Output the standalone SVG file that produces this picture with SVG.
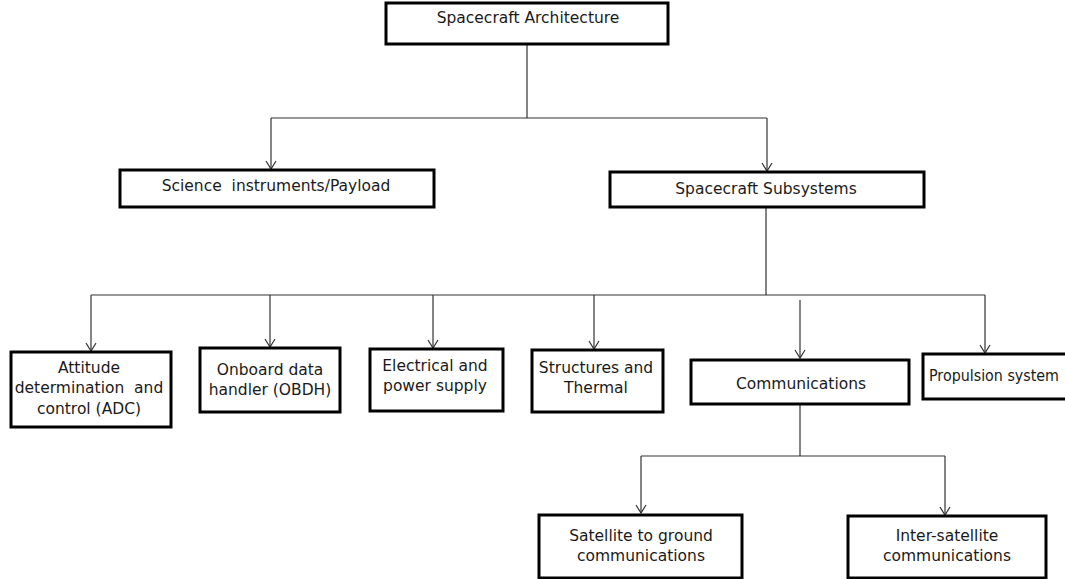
<svg xmlns="http://www.w3.org/2000/svg" width="1065" height="579" viewBox="0 0 1065 579">
<defs>
<marker id="arr" markerWidth="12" markerHeight="12" refX="10" refY="6" orient="auto" markerUnits="userSpaceOnUse" viewBox="0 0 12 12">
<path d="M2,1 L10,6 L2,11" fill="none" stroke="#333" stroke-width="1.2"/>
</marker>
<style>
.box{fill:#fff;stroke:#000;stroke-width:3}
.t{font-family:"DejaVu Sans",Verdana,sans-serif;font-size:15.5px;fill:#1a1a1a;text-anchor:middle}
.c{fill:none;stroke:#333;stroke-width:1.2}
</style>
</defs>
<rect width="1065" height="579" fill="#fff"/>
<g id="connectors">
<path class="c" d="M527,44 V118 M271,118 H767"/>
<path class="c" d="M271,118 V169" marker-end="url(#arr)"/>
<path class="c" d="M767,118 V171" marker-end="url(#arr)"/>
<path class="c" d="M766,207 V295 M91,295 H985"/>
<path class="c" d="M91,295 V351" marker-end="url(#arr)"/>
<path class="c" d="M270,295 V347" marker-end="url(#arr)"/>
<path class="c" d="M433,295 V348" marker-end="url(#arr)"/>
<path class="c" d="M594,295 V349" marker-end="url(#arr)"/>
<path class="c" d="M800,300 V358" marker-end="url(#arr)"/>
<path class="c" d="M985,295 V353" marker-end="url(#arr)"/>
<path class="c" d="M800,404 V456 M641,456 H945"/>
<path class="c" d="M641,456 V513" marker-end="url(#arr)"/>
<path class="c" d="M945,456 V515" marker-end="url(#arr)"/>
</g>
<g id="arch"><rect class="box" x="386" y="3" width="282" height="41"/><text class="t" x="528" y="23">Spacecraft Architecture</text></g>
<g id="payload"><rect class="box" x="120" y="170" width="314" height="37"/><text class="t" x="276" y="191">Science&#160; instruments/Payload</text></g>
<g id="subsys"><rect class="box" x="610" y="172" width="314" height="35"/><text class="t" x="766" y="194">Spacecraft Subsystems</text></g>
<g id="adc"><rect class="box" x="11" y="352" width="160" height="75"/><text class="t" x="89" y="373">Attitude</text><text class="t" x="89" y="393">determination&#160; and</text><text class="t" x="89" y="414">control (ADC)</text></g>
<g id="obdh"><rect class="box" x="200" y="348" width="140" height="64"/><text class="t" x="270" y="375">Onboard data</text><text class="t" x="270" y="395">handler (OBDH)</text></g>
<g id="eps"><rect class="box" x="370" y="349" width="133" height="62"/><text class="t" x="435" y="371">Electrical and</text><text class="t" x="435" y="391">power supply</text></g>
<g id="struct"><rect class="box" x="532" y="350" width="131" height="62"/><text class="t" x="596" y="373">Structures and</text><text class="t" x="596" y="393">Thermal</text></g>
<g id="comms"><rect class="box" x="691" y="360" width="218" height="44"/><text class="t" x="801" y="389">Communications</text></g>
<g id="prop"><rect class="box" x="923" y="354" width="150" height="45"/><text class="t" x="929" y="381" style="text-anchor:start" textLength="130" lengthAdjust="spacingAndGlyphs">Propulsion system</text></g>
<g id="satground"><rect class="box" x="539" y="515" width="203" height="63"/><text class="t" x="641" y="541">Satellite to ground</text><text class="t" x="641" y="561">communications</text></g>
<g id="intersat"><rect class="box" x="848" y="516" width="198" height="62"/><text class="t" x="947" y="541">Inter-satellite</text><text class="t" x="947" y="561">communications</text></g>
</svg>
